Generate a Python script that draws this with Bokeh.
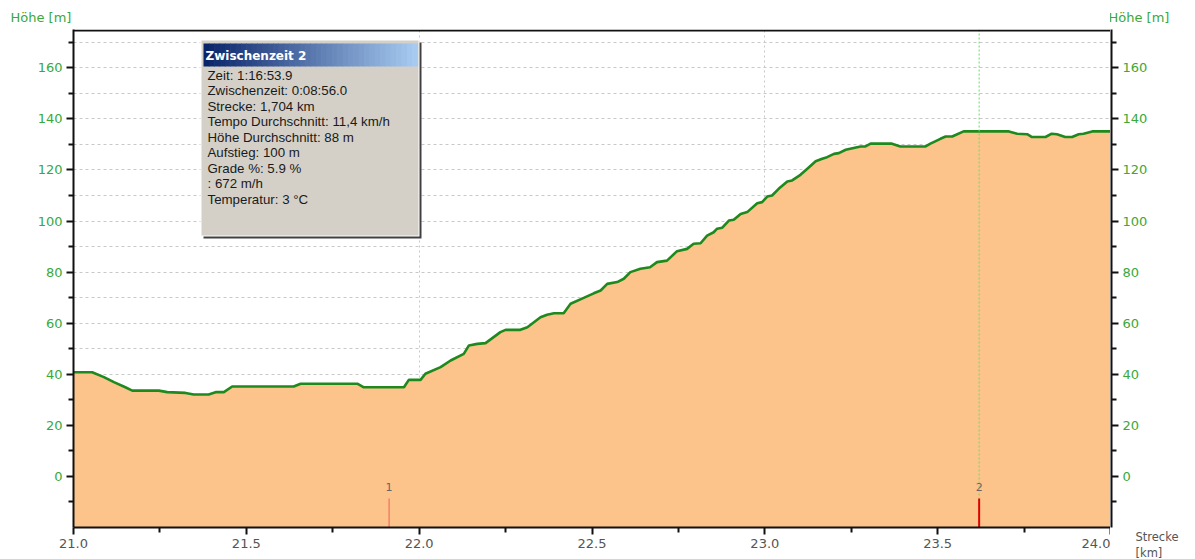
from bokeh.plotting import figure
from bokeh.layouts import row
from bokeh.models import Range1d, LinearAxis, FixedTicker, Grid, Span, Label, BoxAnnotation, Title
from bokeh.embed import file_html
from bokeh.resources import INLINE
from bokeh.core.properties import value

# ---------------- data ----------------
dist_km = [21.000, 21.015, 21.054, 21.088, 21.117, 21.150, 21.170, 21.247, 21.271, 21.324,
           21.348, 21.391, 21.411, 21.435, 21.459, 21.637, 21.657, 21.821, 21.840, 21.956,
           21.970, 22.004, 22.018, 22.062, 22.091, 22.129, 22.144, 22.168, 22.192, 22.235,
           22.250, 22.293, 22.313, 22.351, 22.370, 22.390, 22.418, 22.438, 22.476, 22.505,
           22.525, 22.544, 22.573, 22.592, 22.611, 22.640, 22.668, 22.688, 22.717, 22.746,
           22.775, 22.794, 22.814, 22.833, 22.852, 22.862, 22.877, 22.896, 22.910, 22.930,
           22.949, 22.978, 22.992, 23.007, 23.021, 23.040, 23.065, 23.079, 23.103, 23.123,
           23.147, 23.166, 23.180, 23.200, 23.214, 23.234, 23.257, 23.277, 23.291, 23.306,
           23.368, 23.392, 23.465, 23.479, 23.508, 23.523, 23.542, 23.575, 23.706, 23.730,
           23.759, 23.773, 23.812, 23.830, 23.845, 23.869, 23.889, 23.908, 23.922, 23.947,
           24.000]
elev_m = [40.8, 40.8, 40.8, 38.9, 36.9, 34.9, 33.6, 33.6, 33.0, 32.7,
          32.1, 32.1, 33.0, 33.0, 35.2, 35.2, 36.3, 36.3, 34.9, 34.9,
          37.8, 37.8, 40.2, 42.8, 45.4, 48.0, 51.3, 51.9, 52.2, 56.5,
          57.4, 57.4, 58.4, 62.3, 63.3, 63.9, 63.9, 67.6, 69.9, 71.7,
          72.8, 75.4, 76.1, 77.4, 80.0, 81.3, 81.9, 83.9, 84.5, 88.2,
          89.1, 91.1, 91.3, 94.3, 95.6, 97.0, 97.4, 100.2, 100.5, 102.8,
          103.5, 107.0, 107.4, 109.6, 110.0, 112.6, 115.5, 115.9, 118.1, 120.5,
          123.4, 124.4, 125.0, 126.3, 126.6, 127.9, 128.6, 129.2, 129.2, 130.3,
          130.3, 129.2, 129.2, 130.3, 132.2, 133.1, 133.1, 135.1, 135.1, 134.2,
          134.0, 132.9, 132.9, 134.2, 134.0, 132.9, 132.9, 134.0, 134.2, 135.1,
          135.1]
split_km = [21.913, 23.62]
split_names = ["1", "2"]
selected_split = 1
x_ticks = [21.0, 21.5, 22.0, 22.5, 23.0, 23.5, 24.0]
x_minor = [21.25, 21.75, 22.25, 22.75, 23.25, 23.75]
x_grid_ticks = [22.0, 23.0]
y_ticks = [0, 20, 40, 60, 80, 100, 120, 140, 160]
y_minor = [-10, 10, 30, 50, 70, 90, 110, 130, 150, 170]
y_grid_ticks = [-10, 0, 10, 20, 30, 40, 50, 60, 70, 80, 90, 100, 110, 120, 130, 140, 150, 160, 170]
y_axis_title = "Höhe [m]"
x_axis_title = ["Strecke", "[km]"]
info_title = "Zwischenzeit 2"
info_lines = ["Zeit: 1:16:53.9",
              "Zwischenzeit: 0:08:56.0",
              "Strecke: 1,704 km",
              "Tempo Durchschnitt: 11,4 km/h",
              "Höhe Durchschnitt: 88 m",
              "Aufstieg: 100 m",
              "Grade %: 5.9 %",
              ": 672 m/h",
              "Temperatur: 3 °C"]

# ---------------- layout ----------------
X0, X1, Y0, Y1 = 21.0, 24.0, -20.0, 175.0
FL, FR, FT, FB = 73, 1110, 29, 527  # frame edges in page pixels
W, H = 1195, 559


def px2x(px):
    return X0 + (px - FL) / (FR - FL) * (X1 - X0)


def px2y(py):
    return Y0 + (FB - py) / (FB - FT) * (Y1 - Y0)


GREEN_TXT = "#3aa83a"
GREY_TXT = "#555555"
FONT = "DejaVu Sans"


def style_axis(ax, color):
    ax.axis_line_color = "#111111"
    ax.axis_line_width = 2
    ax.major_tick_line_color = "#111111"
    ax.major_tick_line_width = 2
    ax.minor_tick_line_color = "#111111"
    ax.minor_tick_line_width = 2
    ax.major_tick_out = 7
    ax.major_tick_in = 0
    ax.minor_tick_out = 5
    ax.minor_tick_in = 0
    ax.major_label_text_font = FONT
    ax.major_label_text_font_size = "13px"
    ax.major_label_standoff = 4
    ax.major_label_text_color = color


# main plot (left axis, bottom axis, frame)
p = figure(width=FR, height=H, x_range=Range1d(X0, X1), y_range=Range1d(Y0, Y1),
           output_backend="svg", toolbar_location=None,
           min_border_left=FL, min_border_right=0, min_border_top=FT, min_border_bottom=H - FB,
           background_fill_color="white", border_fill_color="white")
p.outline_line_color = None
p.title.text = y_axis_title
p.title.align = "left"
p.title.offset = 10 - FL
p.title.standoff = 10
p.title.text_font = FONT
p.title.text_font_size = "13px"
p.title.text_font_style = "normal"
p.title.text_color = GREEN_TXT

xa = p.xaxis[0]
xa.ticker = FixedTicker(ticks=x_ticks, minor_ticks=x_minor)
xa.major_label_overrides = {t: f"{t:.1f}" for t in x_ticks}
style_axis(xa, GREY_TXT)
ya = p.yaxis[0]
ya.ticker = FixedTicker(ticks=y_ticks, minor_ticks=y_minor)
style_axis(ya, GREEN_TXT)

# grids
p.xgrid.visible = False
p.ygrid.ticker = FixedTicker(ticks=y_grid_ticks)
p.ygrid.grid_line_color = "#c8c8c8"
p.ygrid.grid_line_dash = "3 3"
p.ygrid.grid_line_width = 1
p.add_layout(Grid(dimension=0, ticker=FixedTicker(ticks=x_grid_ticks),
                  grid_line_color="#c8c8c8", grid_line_dash="2 3", grid_line_width=1))

# profile
p.varea(x=dist_km, y1=Y0, y2=elev_m, fill_color="#fcc48a", fill_alpha=1)
p.line(x=dist_km, y=elev_m, line_color="#1e8a1e", line_width=2.6)

# frame top border
p.add_layout(Span(location=px2y(30), dimension="width", line_color="#111111",
                  line_width=2, level="overlay"))

# split markers
sel = split_km[selected_split]
p.segment(x0=[sel], y0=[Y1], x1=[sel], y1=[px2y(498)], line_color="#66dd66",
          line_dash="2 2", line_width=1)
p.segment(x0=split_km, y0=[px2y(498)] * 2, x1=split_km, y1=[Y0] * 2,
          line_color=["#f07060", "#e00000"], line_width=[1.2, 2])
p.text(x=split_km, y=[px2y(486)] * 2, text=split_names, text_align="center",
       text_baseline="middle", text_font=value(FONT), text_font_size="11px",
       text_color="#666666")

# info box (bevelled Windows-style panel)
p.add_layout(BoxAnnotation(left=px2x(203), right=px2x(421), top=px2y(42), bottom=px2y(238),
                           fill_color="#404040", fill_alpha=1, line_alpha=0, level="overlay"))
p.add_layout(BoxAnnotation(left=px2x(200), right=px2x(419), top=px2y(39), bottom=px2y(236),
                           fill_color="#ffffff", fill_alpha=1, line_alpha=0, level="overlay"))
p.add_layout(BoxAnnotation(left=px2x(201), right=px2x(418), top=px2y(40), bottom=px2y(235),
                           fill_color="#d4d0c8", fill_alpha=1, line_alpha=0, level="overlay"))
c0 = (10, 36, 106)
c1 = (166, 202, 240)
n = 40
bl, br = 203, 417
for i in range(n):
    t = i / (n - 1)
    col = "#%02x%02x%02x" % tuple(int(round(a + (b - a) * t)) for a, b in zip(c0, c1))
    p.add_layout(BoxAnnotation(left=px2x(bl + (br - bl) * i / n),
                               right=px2x(bl + (br - bl) * (i + 1) / n + 0.6),
                               top=px2y(43), bottom=px2y(66),
                               fill_color=col, fill_alpha=1, line_alpha=0, level="overlay"))
p.add_layout(Label(x=px2x(205), y=px2y(55), text=info_title, text_align="left",
                   text_baseline="middle", text_font=FONT, text_font_size="12px",
                   text_font_style="bold", text_color="white", level="overlay"))
for i, line in enumerate(info_lines):
    p.add_layout(Label(x=px2x(207), y=px2y(74.5 + 15.5 * i), text=line, text_align="left",
                       text_baseline="middle", text_font="Liberation Sans",
                       text_font_size="13.3px", text_color="#1a1a1a", level="overlay"))

# right strip: right axis + its titles, sharing the y range
SW = W - FR
q = figure(width=SW, height=H, x_range=Range1d(0, 1), y_range=p.y_range,
           output_backend="svg", toolbar_location=None,
           x_axis_location=None, y_axis_location=None,
           min_border_left=0, min_border_right=SW - 1, min_border_top=FT, min_border_bottom=H - FB,
           background_fill_color="white", border_fill_color="white")
q.outline_line_color = None
q.xgrid.visible = False
q.ygrid.visible = False
ra = LinearAxis(ticker=FixedTicker(ticks=y_ticks, minor_ticks=y_minor))
style_axis(ra, GREEN_TXT)
q.add_layout(ra, "right")
q.title.text = y_axis_title
q.title.align = "left"
q.title.offset = 1108 - FR
q.title.standoff = 10
q.title.text_font = FONT
q.title.text_font_size = "13px"
q.title.text_font_style = "normal"
q.title.text_color = GREEN_TXT
for j, t in enumerate(x_axis_title):
    q.add_layout(Title(text=t, align="left", offset=1135 - FR, standoff=0,
                       text_line_height=1.0,
                       text_font=FONT, text_font_size="11.5px", text_font_style="normal",
                       text_color=GREY_TXT), "below")

layout = row(p, q, spacing=0)
open("out.html", "w").write(file_html(layout, INLINE))
